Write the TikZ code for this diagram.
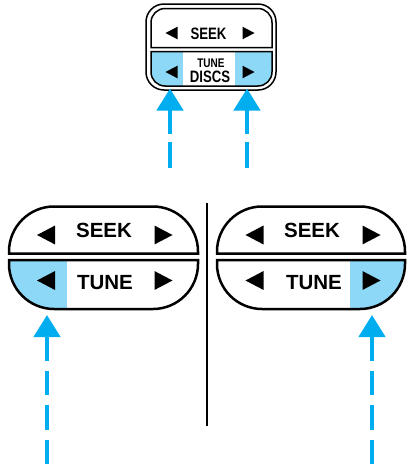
\documentclass[tikz,border=0pt]{standalone}
\usepackage{fontspec}
\setsansfont{Liberation Sans}
\newfontfamily\narrowsans[FakeStretch=0.8]{Liberation Sans}
\usetikzlibrary{arrows.meta}
\definecolor{keyblue}{RGB}{140,216,246}
\definecolor{cueblue}{RGB}{0,174,239}

% key halves: left x, right x, top y, bottom y, corner radius
\newcommand{\keyupper}[5]{(#1,#4) -- (#1,{#3+#5}) .. controls (#1,{#3+0.45*#5}) and ({#1+0.45*#5},#3) .. ({#1+#5},#3) -- ({#2-#5},#3) .. controls ({#2-0.45*#5},#3) and (#2,{#3+0.45*#5}) .. (#2,{#3+#5}) -- (#2,#4) -- cycle}
\newcommand{\keylower}[5]{(#1,#3) -- (#1,{#4-#5}) .. controls (#1,{#4-0.45*#5}) and ({#1+0.45*#5},#4) .. ({#1+#5},#4) -- ({#2-#5},#4) .. controls ({#2-0.45*#5},#4) and (#2,{#4-0.45*#5}) .. (#2,{#4-#5}) -- (#2,#3) -- cycle}

\begin{document}
\begin{tikzpicture}[
  x=1pt, y=-1pt,
  keyline/.style={draw=black, line width=2.5pt},
  smallline/.style={draw=black, line width=1.5pt},
  bigtext/.style={font=\sffamily\bfseries\fontsize{20.5}{20.5}\selectfont, inner sep=0pt},
  smalltext/.style={font=\narrowsans\bfseries\fontsize{16.5}{16.5}\selectfont, inner sep=0pt},
  tinytext/.style={font=\narrowsans\bfseries\fontsize{12.5}{12.5}\selectfont, inner sep=0pt},
  cue/.style={draw=cueblue, line width=4.5pt, -{Triangle[length=22pt,width=26pt]}},
  pics/tleft/.style={code={\fill (-1,0) -- (1,-1.05) -- (1,1.05) -- cycle;}},
  pics/tright/.style={code={\fill (1,0) -- (-1,-1.05) -- (-1,1.05) -- cycle;}}
]
\useasboundingbox (0,0) rectangle (408,464);

% Touche du haut (petite)
\begin{scope}
  \clip \keylower{151}{272}{51.5}{86}{14};
  \fill[keyblue] (140,45) rectangle (183,95);
  \fill[keyblue] (235,45) rectangle (280,95);
\end{scope}
\draw[smallline, rounded corners=18pt] (146,4) rectangle (276,90);
\draw[smallline] \keyupper{151}{272}{8.5}{47.5}{14};
\draw[smallline] \keylower{151}{272}{51.5}{86}{14};
\node[smalltext] (seekS) at (208.5,33.5) {SEEK};
\node[tinytext] (tuneS) at (211,63.5) {TUNE};
\node[smalltext] (discsS) at (210,76.5) {DISCS};
\pic[scale=6] at (171.5,33) {tleft};
\pic[scale=6] at (248.5,33) {tright};
\pic[scale=6] at (171.5,72) {tleft};
\pic[scale=6] at (248.5,72) {tright};

% Touches du bas (grandes)
\begin{scope}
  \clip \keylower{9}{198}{260}{309}{45};
  \fill[keyblue] (0,250) rectangle (67,320);
\end{scope}
\begin{scope}
  \clip \keylower{217}{405}{260}{309}{45};
  \fill[keyblue] (350,250) rectangle (410,320);
\end{scope}
\draw[keyline] \keyupper{9}{198}{206.5}{253.5}{45};
\draw[keyline] \keylower{9}{198}{260}{309}{45};
\draw[keyline] \keyupper{217}{405}{206.5}{253.5}{45};
\draw[keyline] \keylower{217}{405}{260}{309}{45};

\node[bigtext] (seekL) at (104,230) {SEEK};
\node[bigtext] (tuneL) at (105,282.5) {TUNE};
\node[bigtext] (seekR) at (312,230) {SEEK};
\node[bigtext] (tuneR) at (314,282.5) {TUNE};
\foreach \xl/\xr in {46/163.5, 254.5/371.5} {
  \pic[scale=9] at (\xl,235) {tleft};
  \pic[scale=9] at (\xr,235) {tright};
  \pic[scale=9] at (\xl,280.5) {tleft};
  \pic[scale=9] at (\xr,280.5) {tright};
}

% Séparation
\coordinate (divtop) at (207,203);
\coordinate (divbot) at (207,426);
\draw[line width=2pt] (divtop) -- (divbot);

% Flèches
\coordinate (footSL) at (170,168);
\coordinate (tipSL) at (170,88.5);
\coordinate (footSR) at (247,168);
\coordinate (tipSR) at (247,88.5);
\coordinate (footL) at (47,464);
\coordinate (tipL) at (47,315);
\coordinate (footR) at (372,464);
\coordinate (tipR) at (372,315);
\draw[cue, dash pattern=on 26pt off 8pt] (footSL) -- (tipSL);
\draw[cue, dash pattern=on 26pt off 8pt] (footSR) -- (tipSR);
\draw[cue, dash pattern=on 24.5pt off 10pt] (footL) -- (tipL);
\draw[cue, dash pattern=on 24.5pt off 10pt] (footR) -- (tipR);
\end{tikzpicture}
\end{document}
